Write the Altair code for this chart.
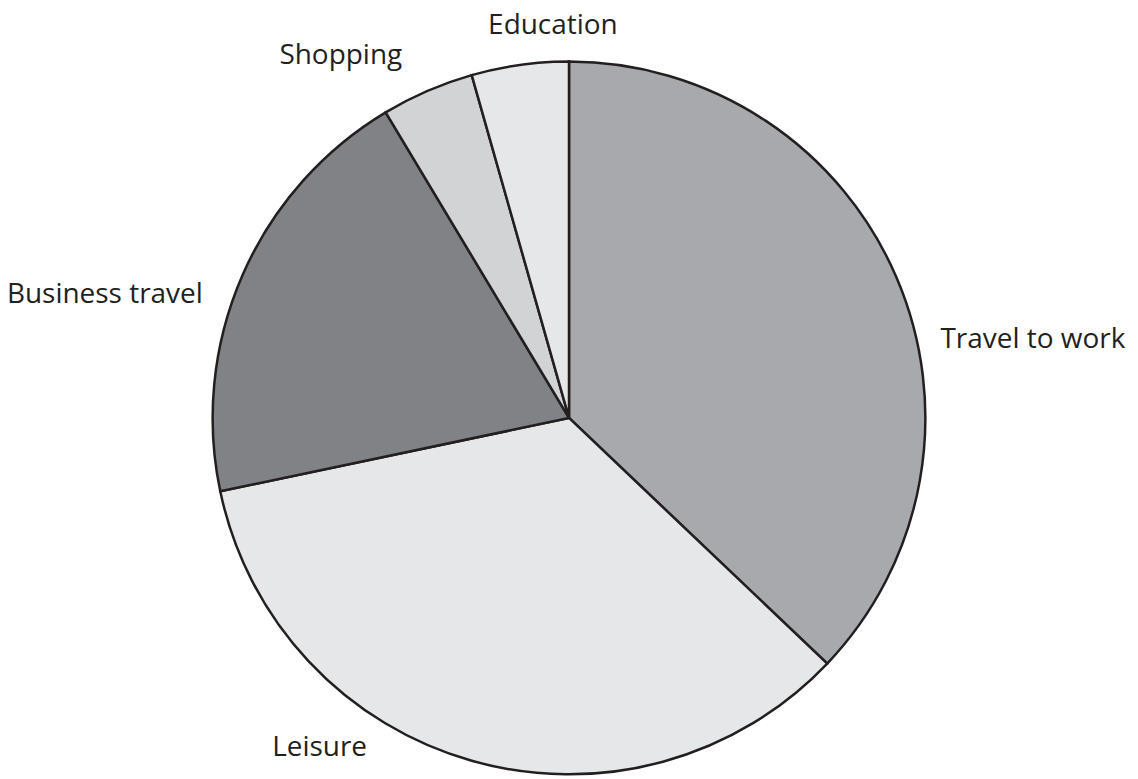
import altair as alt
import pandas as pd

# Data (shares of trips, %)
categories = ["Travel to work", "Leisure", "Business travel", "Shopping", "Education"]
values = [37.1, 34.6, 19.7, 4.2, 4.4]
colors = ["#A7A9AC", "#E6E7E8", "#808285", "#D1D3D4", "#E6E7E8"]

# Label placement (polar: angle clockwise from 12 o'clock in degrees, distance from centre in px)
label_angle = [81.4, 216.4, 283.9, 327.2, 357.6]
label_dist = [470, 421, 479, 422, 385]

slices = pd.DataFrame({"category": categories, "value": values, "idx": list(range(len(categories)))})
labels = pd.DataFrame({"category": categories, "angle": label_angle, "dist": label_dist})

INK = "#231F20"

pie = alt.Chart(slices).mark_arc(radius=357, stroke=INK, strokeWidth=2.5).encode(
    theta=alt.Theta("value:Q", stack=True),
    order=alt.Order("idx:Q"),
    color=alt.Color("category:N", scale=alt.Scale(domain=categories, range=colors), legend=None),
)

text = alt.Chart(labels).mark_text(
    font="Open Sans", fontSize=28, color=INK, align="center", baseline="alphabetic"
).encode(
    theta=alt.Theta("angle:Q", scale=alt.Scale(domain=[0, 360], range=[0, 6.283185307179586])),
    radius=alt.Radius("dist:Q", scale=alt.Scale(type="linear", domain=[0, 500], range=[0, 500], zero=True)),
    text="category:N",
)

chart = alt.layer(pie, text).resolve_scale(theta="independent").properties(
    width=1124,
    height=704,
    autosize="none",
    padding={"left": 0, "top": 58, "right": 0, "bottom": 12},
    background="white",
).configure_view(stroke=None)

chart.save("out.html", embed_options={"renderer": "svg", "actions": False})
